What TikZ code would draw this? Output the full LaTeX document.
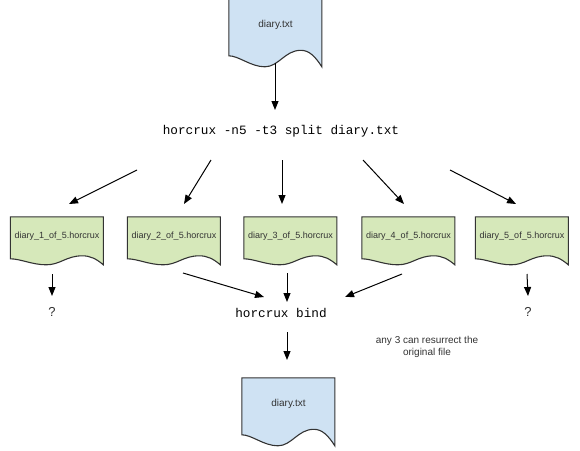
\documentclass[tikz,border=0pt]{standalone}
\usepackage{fontspec}
\setmainfont{Liberation Sans}
\setmonofont{Liberation Mono}
\usepackage{xcolor}
\usetikzlibrary{arrows.meta,backgrounds}
\definecolor{docblue}{RGB}{207,226,243}
\definecolor{docgreen}{RGB}{214,232,186}
\definecolor{docline}{RGB}{51,51,51}
\definecolor{doctext}{RGB}{51,51,51}

% outline of a document shape hanging from a node's north west corner
% #1 node, #2 fill, #3 height at right edge, #4 wave amplitude
\newcommand{\docoutline}[4]{%
  \begin{scope}[shift={(#1.north west)}]
    \draw[draw=docline,line width=1.1pt,fill=#2]
      (0,0) -- (93,0) -- (93,#3)
      .. controls (86,#3-#4) and (80,#3-1.5*#4) .. (72,#3-1.5*#4)
      .. controls (56,#3-1.5*#4) and (50,#3) .. (36,#3)
      .. controls (22,#3) and (10,#3-#4) .. (0,#3-#4) -- cycle;
  \end{scope}}

\begin{document}
\begin{tikzpicture}[x=1pt,y=-1pt,
    txtdoc/.style={inner sep=0pt,minimum width=93pt,minimum height=52pt,
      text=doctext,font=\fontsize{10}{12}\selectfont},
    hxdoc/.style={inner sep=0pt,minimum width=93pt,minimum height=38pt,
      text=doctext,font=\fontsize{9}{11}\selectfont},
    cmd/.style={inner sep=1pt,font=\ttfamily\fontsize{12.7}{14}\selectfont},
    lost/.style={inner sep=1pt,text=doctext,font=\fontsize{13}{15}\selectfont},
    arr/.style={-{Triangle[length=9pt,width=7pt]},line width=1pt,draw=black}]
  \useasboundingbox (0,0) rectangle (580,450);

  % files
  \node[txtdoc] (src) at (275.5,25) {diary.txt};
  \node[cmd] (split) at (281,131) {horcrux -n5 -t3 split diary.txt};
  \node[hxdoc] (h1) at (57,236) {diary\_1\_of\_5.horcrux};
  \node[hxdoc] (h2) at (174,236) {diary\_2\_of\_5.horcrux};
  \node[hxdoc] (h3) at (290.5,236) {diary\_3\_of\_5.horcrux};
  \node[hxdoc] (h4) at (408.5,236) {diary\_4\_of\_5.horcrux};
  \node[hxdoc] (h5) at (522,236) {diary\_5\_of\_5.horcrux};
  \node[lost] (q1) at (52,312) {?};
  \node[lost] (q5) at (528,312) {?};
  \node[cmd] (bind) at (281,313) {horcrux bind};
  \node[align=center,text=doctext,font=\fontsize{10}{12}\selectfont] (note)
    at (427,347) {any 3 can resurrect the\\original file};
  \node[txtdoc] (dest) at (288.5,404) {diary.txt};

  \begin{scope}[on background layer]
    \docoutline{src}{docblue}{68}{11}
    \foreach \h in {h1,h2,h3,h4,h5}{
      \docoutline{\h}{docgreen}{48}{6}
    }
    \docoutline{dest}{docblue}{68}{11}
  \end{scope}

  % split
  \draw[arr] ([shift={(-0.5,38)}]src.center) -- ([shift={(-6,-21)}]split.center);
  \draw[arr] ([shift={(-144,39)}]split.center) -- ([shift={(12,-32)}]h1.center);
  \draw[arr] ([shift={(-70,29)}]split.center) -- ([shift={(10,-32)}]h2.center);
  \draw[arr] ([shift={(1,29)}]split.center) -- ([shift={(-8.5,-32)}]h3.center);
  \draw[arr] ([shift={(82,29)}]split.center) -- ([shift={(-4.5,-32)}]h4.center);
  \draw[arr] ([shift={(169,39)}]split.center) -- ([shift={(-6,-32)}]h5.center);

  % bind
  \draw[arr] ([shift={(-5,38)}]h1.center) -- ([shift={(0,-16)}]q1.center);
  \draw[arr] ([shift={(5,38)}]h5.center) -- ([shift={(0,-16)}]q5.center);
  \draw[arr] ([shift={(9,37)}]h2.center) -- ([shift={(-17,-16)}]bind.center);
  \draw[arr] ([shift={(-3.5,37)}]h3.center) -- ([shift={(6,-11)}]bind.center);
  \draw[arr] ([shift={(-6.5,38)}]h4.center) -- ([shift={(64,-16)}]bind.center);
  \draw[arr] ([shift={(6,19)}]bind.center) -- ([shift={(-1.5,-44)}]dest.center);
\end{tikzpicture}
\end{document}
